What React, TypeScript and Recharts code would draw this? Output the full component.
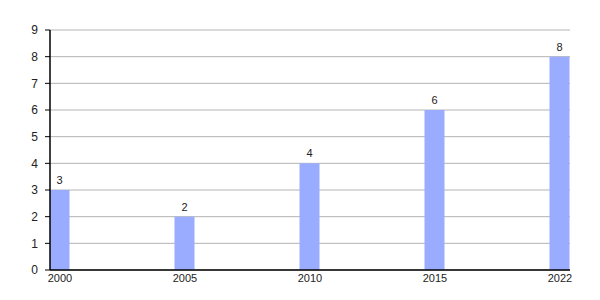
import React from "react";
import { BarChart, Bar, XAxis, YAxis, CartesianGrid, LabelList } from "recharts";

const years = ["2000", "2005", "2010", "2015", "2022"];
const values = [3, 2, 4, 6, 8];
const yTicks = [0, 1, 2, 3, 4, 5, 6, 7, 8, 9];

const data = years.map((y, i) => ({ idx: i, year: y, value: values[i] }));

export default function App() {
  return (
    <div style={{ position: "absolute", left: 0, top: 0, width: 600, height: 300, background: "#fff" }}>
      <BarChart
        width={600}
        height={300}
        data={data}
        margin={{ top: 30, right: 30, bottom: 0, left: 0 }}
      >
        <CartesianGrid horizontal={true} vertical={false} stroke="#b4b4b4" strokeWidth={1} />
        <XAxis
          dataKey="idx"
          type="number"
          domain={[-0.08, 4.08]}
          ticks={[0, 1, 2, 3, 4]}
          tickFormatter={(v: number) => years[v]}
          height={30}
          tickLine={false}
          tickSize={0}
          tickMargin={4}
          axisLine={{ stroke: "#000", strokeWidth: 1.5 }}
          tick={{ fill: "#222", fontSize: 11, fontFamily: "Liberation Sans, Arial, sans-serif" }}
          allowDataOverflow={true}
        />
        <YAxis
          domain={[0, 9]}
          ticks={yTicks}
          interval={0}
          width={50}
          tickSize={5}
          tickMargin={7}
          axisLine={{ stroke: "#000", strokeWidth: 1.5 }}
          tickLine={{ stroke: "#000" }}
          tick={{ fill: "#222", fontSize: 12, fontFamily: "Liberation Sans, Arial, sans-serif" }}
        />
        <Bar dataKey="value" fill="#9aacff" barSize={20} isAnimationActive={false}>
          <LabelList
            dataKey="value"
            position="top"
            offset={6}
            style={{ fill: "#222", fontSize: 11, fontFamily: "Liberation Sans, Arial, sans-serif" }}
          />
        </Bar>
      </BarChart>
    </div>
  );
}
